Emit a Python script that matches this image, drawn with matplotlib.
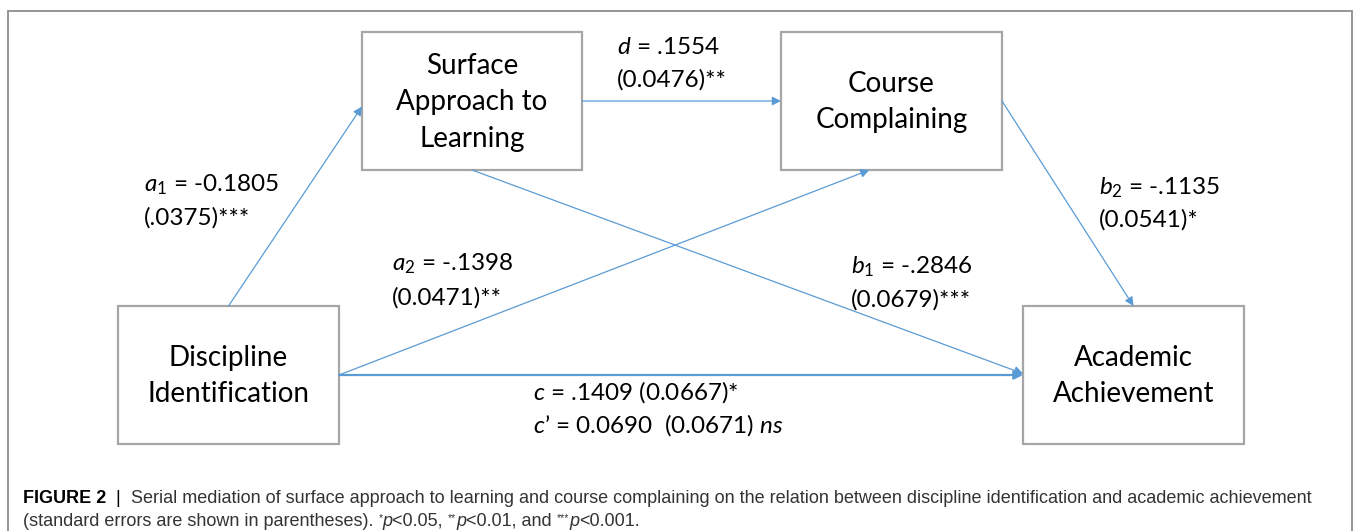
import matplotlib
matplotlib.use("Agg")
import matplotlib.pyplot as plt
from matplotlib.patches import Rectangle

# ---- data -------------------------------------------------------------
box_keys = ["surface", "course", "discipline", "academic"]
box_labels = ["Surface\nApproach to\nLearning", "Course\nComplaining",
              "Discipline\nIdentification", "Academic\nAchievement"]

path_names = ["a1", "d", "a2", "b1", "b2", "c"]
path_symbols = [r"$a_{\mathit{1}}$", r"$d$", r"$a_2$", r"$b_{\mathit{1}}$", r"$b_2$", r"$c$"]
path_coefs = ["-0.1805", ".1554", "-.1398", "-.2846", "-.1135", ".1409"]
path_ses = ["(.0375)", "(0.0476)", "(0.0471)", "(0.0679)", "(0.0541)", "(0.0667)"]
path_stars = ["***", "**", "**", "***", "*", "*"]
path_from = ["discipline", "surface", "discipline", "surface", "course", "discipline"]
path_to = ["surface", "course", "course", "academic", "academic", "academic"]

direct_coef = "0.0690"
direct_se = "(0.0671)"
direct_sig = "ns"

caption_bold = "FIGURE 2"
caption_line1 = ("Serial mediation of surface approach to learning and course complaining "
                 "on the relation between discipline identification and academic achievement")
caption_line2 = "(standard errors are shown in parentheses). "
sig_levels = [("*", "<0.05, "), ("**", "<0.01, and "), ("***", "<0.001.")]

# ---- layout (pixels, y down) ------------------------------------------
W, H = 1354, 531
boxes = {
    "surface": (362, 32, 582, 170),
    "course": (781, 32, 1002, 170),
    "discipline": (118, 306, 339, 444),
    "academic": (1023, 306, 1244, 444),
}
# where each arrow leaves / enters a box (side, fraction along side)
anchors_from = {"a1": ("top", 0.5), "d": ("right", 0.5), "a2": ("right", 0.5),
                "b1": ("bottom", 0.5), "b2": ("right", 0.5), "c": ("right", 0.5)}
anchors_to = {"a1": ("left", 0.54), "d": ("left", 0.5), "a2": ("bottom", 0.4),
              "b1": ("left", 0.49), "b2": ("top", 0.5), "c": ("left", 0.5)}
label_pos = {"a1": (144, 185, 218), "d": (617, 47, 80), "a2": (392, 264, 298),
             "b1": (851, 267, 300), "b2": (1099, 188, 220), "c": (533, 392, 425)}

blue = "#5b9bd5"
box_edge = "#a6a6a6"
frame_col = "#8c8c8c"

plt.rcParams["mathtext.fontset"] = "custom"
plt.rcParams["mathtext.rm"] = "Lato"
plt.rcParams["mathtext.it"] = "Lato:italic"


def anchor(key, side, frac):
    x0, y0, x1, y1 = boxes[key]
    if side == "top":
        return x0 + frac * (x1 - x0), y0
    if side == "bottom":
        return x0 + frac * (x1 - x0), y1
    if side == "left":
        return x0, y0 + frac * (y1 - y0)
    return x1, y0 + frac * (y1 - y0)


def draw_runs(ax, x, y, runs, renderer):
    # draw pieces of text one after another on the same baseline
    for txt, kw in runs:
        dy = kw.pop("dy", 0)
        t = ax.text(x, y - dy, txt, va="baseline", ha="left", **kw)
        bb = t.get_window_extent(renderer)
        x += bb.width


fig = plt.figure(figsize=(W / 100, H / 100), dpi=100)
ax = fig.add_axes([0, 0, 1, 1])
ax.set_xlim(0, W)
ax.set_ylim(H, 0)
ax.axis("off")

# outer frame (top, left, right only)
ax.plot([8, 8, 1352, 1352], [H + 5, 11, 11, H + 5], color=frame_col, lw=1.3,
        solid_joinstyle="miter")

for key, lab in zip(box_keys, box_labels):
    x0, y0, x1, y1 = boxes[key]
    ax.add_patch(Rectangle((x0, y0), x1 - x0, y1 - y0, fill=False,
                           edgecolor=box_edge, lw=1.6, zorder=3))
    ax.text((x0 + x1) / 2, (y0 + y1) / 2 + 1, lab, ha="center", va="center",
            fontsize=20, family="Lato", linespacing=1.5, color="black", zorder=4)

for i, name in enumerate(path_names):
    s = anchor(path_from[i], *anchors_from[name])
    e = anchor(path_to[i], *anchors_to[name])
    lw = 1.6 if name == "c" else 0.9
    ax.annotate("", xy=e, xytext=s,
                arrowprops=dict(arrowstyle="-|>", color=blue, lw=lw,
                                mutation_scale=13, shrinkA=0, shrinkB=0))

for i, name in enumerate(path_names):
    lx, ly1, ly2 = label_pos[name]
    if name == "c":
        line1 = f"{path_symbols[i]} = {path_coefs[i]} {path_ses[i]}{path_stars[i]}"
        line2 = f"$c$\u2019 = {direct_coef}  {direct_se} ${direct_sig}$"
    else:
        line1 = f"{path_symbols[i]} = {path_coefs[i]}"
        line2 = f"{path_ses[i]}{path_stars[i]}"
    ax.text(lx, ly1, line1, ha="left", va="center", fontsize=17.5, family="Lato")
    ax.text(lx, ly2, line2, ha="left", va="center", fontsize=17.5, family="Lato")

# caption
fig.canvas.draw()
r = fig.canvas.get_renderer()
cfont = dict(family="Liberation Sans", fontsize=13.0, color="#333333")
draw_runs(ax, 23, 503, [
    (caption_bold, dict(cfont, weight="bold", color="black")),
    ("  |  ", dict(cfont, color="black")),
    (caption_line1, dict(cfont)),
], r)
runs2 = [(caption_line2, dict(cfont))]
for stars, rest in sig_levels:
    runs2.append((stars, dict(cfont, fontsize=7.5, dy=5)))
    runs2.append(("p", dict(cfont, style="italic")))
    runs2.append((rest, dict(cfont)))
draw_runs(ax, 23, 526, runs2, r)

fig.savefig("out.png", dpi=100)
